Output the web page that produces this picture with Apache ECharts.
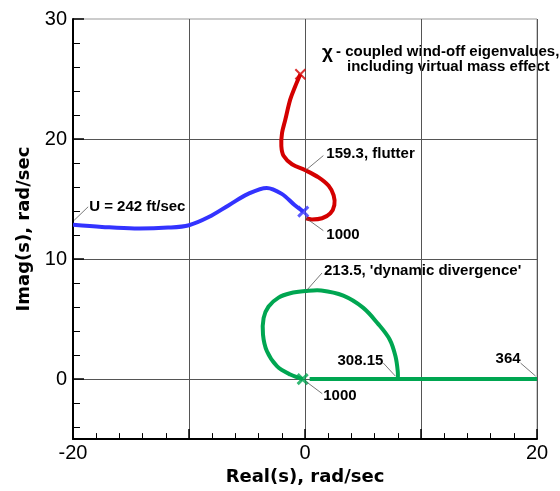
<!DOCTYPE html>
<html>
<head>
<meta charset="utf-8">
<script src="https://cdn.jsdelivr.net/npm/echarts@6/dist/echarts.min.js"></script>
<style>
html,body{margin:0;padding:0;background:#fff;}
#chart{width:560px;height:491px;}
</style>
</head>
<body>
<div id="chart"></div>
<script>
// ---- data ----
const blueRe = [-20, -17.5, -14.7, -11.8, -10.0, -8.3, -6.6, -4.9, -3.3, -2.0, -0.9, -0.15];
const blueIm = [12.85, 12.68, 12.55, 12.62, 12.82, 13.5, 14.47, 15.43, 15.93, 15.43, 14.5, 13.95];

const redRe = [-0.4, -0.84, -1.27, -1.7, -1.98, -2.04, -1.85, -1.12, 0.03, 1.17, 2.04, 2.47, 2.53, 2.18, 1.47, 0.6, 0.1];
const redIm = [25.4, 24.4, 23.3, 21.6, 20.5, 19.4, 18.6, 17.9, 17.4, 16.8, 16.1, 15.3, 14.5, 13.8, 13.4, 13.3, 13.4];

const greenLoopRe = [-0.2, -1.27, -2.42, -3.28, -3.62, -3.57, -3.14, -2.28, -1.27, 0.03, 1.4, 3.3, 5.0, 6.3, 7.3, 7.8, 8.0, 8.0];
const greenLoopIm = [0.0, 0.38, 1.08, 2.32, 3.7, 5.08, 6.05, 6.79, 7.15, 7.33, 7.38, 6.95, 5.95, 4.6, 3.3, 1.9, 0.6, 0.0];

const greenRealRe = [0.4, 8.0, 20.0];
const greenRealIm = [0.0, 0.0, 0.0];

// wind-off eigenvalue markers (red, blue, green)
const markRe = [-0.4, -0.15, -0.2];
const markIm = [25.4, 13.95, 0.0];

// annotations (anchor point on curve + text)
const annoText = ["U = 242 ft/sec", "159.3, flutter", "1000", "213.5, 'dynamic divergence'", "308.15", "364", "1000"];
const annoRe = [-19.9, 0.03, 0.03, 0.17, 7.79, 19.88, 0.11];
const annoIm = [13.23, 17.37, 13.45, 7.42, 0.25, 0.25, -0.22];

const xTickLabels = [-20, 0, 20];
const yTickLabels = [0, 10, 20, 30];
const yMinorTicks = [-4, -2, 2, 4, 6, 8, 12, 14, 16, 18, 22, 24, 26, 28];

const noteLine1 = "- coupled wind-off eigenvalues,";
const noteLine2 = "including virtual mass effect";

// ---- layout / style (not data) ----
const FONT = "'Liberation Sans', Arial, Helvetica, sans-serif";
const TITLEFONT = "'DejaVu Sans', Verdana, sans-serif";
const RED = '#d40000', BLUE = '#3333ff', GREEN = '#00a651';
const markColors = [RED, BLUE, GREEN];
// [leaderDx, leaderDy, textDx, textDy, align]
const annoLayout = [
  [14, -13.5, 1, 0, 'left'],
  [18, -15, 3, -2, 'left'],
  [18, 13, 3, 4, 'left'],
  [15, -17, 2, -2, 'left'],
  [-12, -13, 0, -2, 'right'],
  [-15, -13, 0, -4, 'right'],
  [16, 12, 1, 2, 'left']
];

const zip = (a, b) => a.map((v, i) => [v, b[i]]);
const xSym = 'path://M0,0L10,10M10,0L0,10';

// smooth curve drawn through the axis scales (api.coord)
function curveSeries(re, im, color) {
  return {
    type: 'custom', z: 3, clip: true,
    data: zip(re, im),
    renderItem: function (params, api) {
      if (params.dataIndex !== 0) return null;
      const pts = re.map((x, i) => api.coord([x, im[i]]));
      return {type: 'polyline', shape: {points: pts, smooth: 0.35},
        style: {stroke: color, lineWidth: 4, fill: null, lineJoin: 'round'}};
    }
  };
}

const chart = echarts.init(document.getElementById('chart'), null, {renderer: 'canvas'});

const option = {
  animation: false,
  backgroundColor: '#fff',
  grid: {left: 73, right: 23, top: 19, bottom: 49, show: true, borderColor: '#999', borderWidth: 1},
  xAxis: {
    type: 'value', min: -20, max: 20, interval: 10,
    name: 'Real(s), rad/sec', nameLocation: 'middle', nameGap: 25,
    nameTextStyle: {fontFamily: TITLEFONT, fontSize: 18, fontWeight: 'bold', color: '#000'},
    axisLine: {show: true, onZero: false, lineStyle: {color: '#000', width: 2}},
    axisTick: {show: true, inside: true, length: 10, lineStyle: {color: '#000', width: 1.5}},
    minorTick: {show: true, splitNumber: 5, length: 6, lineStyle: {color: '#000', width: 1}},
    axisLabel: {fontFamily: FONT, fontSize: 20, color: '#000', margin: 4,
      formatter: v => xTickLabels.indexOf(v) >= 0 ? String(v) : ''},
    splitLine: {show: true, lineStyle: {color: '#555', width: 1}}
  },
  yAxis: [{
    type: 'value', min: -5, max: 30, splitNumber: 3,
    name: 'Imag(s), rad/sec', nameLocation: 'middle', nameGap: 40,
    nameTextStyle: {fontFamily: TITLEFONT, fontSize: 18, fontWeight: 'bold', color: '#000'},
    axisLine: {show: true, onZero: false, lineStyle: {color: '#000', width: 2}},
    axisTick: {show: true, inside: true, length: 11, customValues: yTickLabels, lineStyle: {color: '#000', width: 1.5}},
    axisLabel: {fontFamily: FONT, fontSize: 20, color: '#000', margin: 6, customValues: yTickLabels},
    splitLine: {show: true, showMaxLine: false, lineStyle: {color: '#555', width: 1}}
  }, {
    type: 'value', min: -5, max: 30, position: 'left', offset: 0,
    axisLine: {show: false, onZero: false},
    axisTick: {show: true, inside: true, length: 7, customValues: yMinorTicks, lineStyle: {color: '#000', width: 1}},
    axisLabel: {show: false},
    splitLine: {show: false}
  }],
  series: [
    curveSeries(blueRe, blueIm, BLUE),
    curveSeries(redRe, redIm, RED),
    curveSeries(greenLoopRe, greenLoopIm, GREEN),
    {type: 'line', data: zip(greenRealRe, greenRealIm), showSymbol: false,
      lineStyle: {color: GREEN, width: 4}, z: 3},
    {type: 'scatter', symbol: xSym, symbolSize: 10, z: 4,
      data: markRe.map((v, i) => ({value: [v, markIm[i]],
        itemStyle: {color: 'rgba(0,0,0,0)', borderColor: markColors[i], borderWidth: i === 0 ? 2 : 3}}))},
    {type: 'custom', clip: false, z: 5,
      data: annoText.map((t, i) => [annoRe[i], annoIm[i], i]),
      renderItem: function (params, api) {
        const i = api.value(2);
        const p = api.coord([api.value(0), api.value(1)]);
        const L = annoLayout[i];
        const ex = p[0] + L[0], ey = p[1] + L[1];
        return {type: 'group', children: [
          {type: 'line', shape: {x1: p[0], y1: p[1], x2: ex, y2: ey}, style: {stroke: '#555', lineWidth: 0.8}},
          {type: 'text', x: ex + L[2], y: ey + L[3], style: {text: annoText[i], fill: '#000',
            font: 'bold 15px ' + FONT, align: L[4], verticalAlign: 'middle'}}
        ]};
      }
    }
  ],
  graphic: [
    {type: 'text', left: 322, top: 43, style: {text: 'χ', fill: '#000', font: 'bold 19px ' + FONT}},
    {type: 'text', left: 336, top: 44, style: {text: noteLine1, fill: '#000', font: 'bold 15px ' + FONT}},
    {type: 'text', left: 347, top: 59, style: {text: noteLine2, fill: '#000', font: 'bold 15px ' + FONT}}
  ]
};
chart.setOption(option);
</script>
</body>
</html>
